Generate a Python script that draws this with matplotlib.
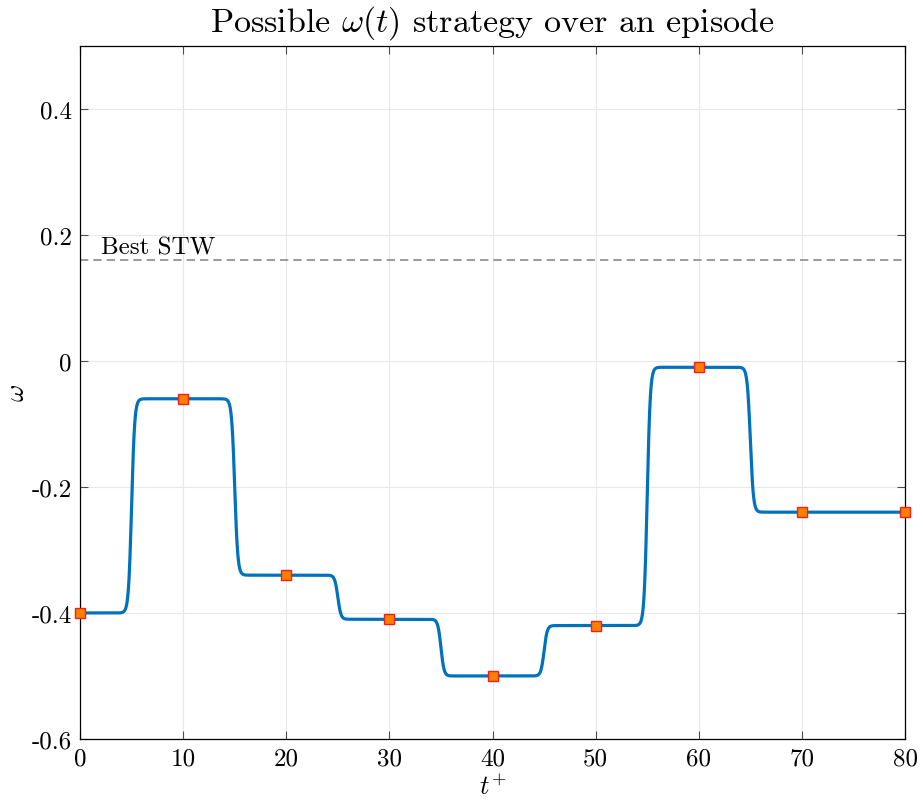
import numpy as np
import matplotlib.pyplot as plt

plt.rcParams['font.family'] = 'serif'
plt.rcParams['font.serif'] = ['cmr10', 'DejaVu Serif']
plt.rcParams['mathtext.fontset'] = 'cm'
plt.rcParams['axes.unicode_minus'] = False

# omega held over each 10 t+ window
t_knots = [0, 10, 20, 30, 40, 50, 60, 70, 80]
w_knots = [-0.40, -0.06, -0.34, -0.41, -0.50, -0.42, -0.01, -0.24, -0.24]
best_stw = 0.16

x_ticks = [0, 10, 20, 30, 40, 50, 60, 70, 80]
y_ticks = [-0.6, -0.4, -0.2, 0, 0.2, 0.4]
y_tick_labels = ['-0.6', '-0.4', '-0.2', '0', '0.2', '0.4']

# smooth switching between the held levels, halfway between knots
t = np.linspace(0, 80, 4000)
w = np.full_like(t, w_knots[0])
for i in range(len(t_knots) - 1):
    tc = 0.5 * (t_knots[i] + t_knots[i + 1])
    w += 0.5 * (w_knots[i + 1] - w_knots[i]) * (1 + np.tanh((t - tc) / 0.3))

fig = plt.figure(figsize=(9.23, 8.03), dpi=100)
ax = fig.add_axes([0.0867, 0.0785, 0.8938, 0.863])

ax.axhline(best_stw, color='#8c8c8c', ls=(0, (5, 3)), lw=1.2, zorder=1)
ax.text(2.0, best_stw + 0.011, 'Best STW', fontsize=18, va='baseline', ha='left')

ax.plot(t, w, color='#0072BD', lw=2.3, zorder=3)
ax.plot(t_knots, w_knots, ls='none', marker='s', ms=6.5, mfc='#FF8000',
        mec='#F0201A', mew=1.0, zorder=4, clip_on=False)

ax.set_xlim(0, 80)
ax.set_ylim(-0.6, 0.5)
ax.set_xticks(x_ticks)
ax.set_yticks(y_ticks)
ax.set_yticklabels(y_tick_labels)
ax.tick_params(direction='in', top=True, right=True, labelsize=18, length=6,
               width=0.8, color='#4d4d4d', pad=6)
ax.grid(True, color='#e8e8e8', lw=0.8)
ax.set_axisbelow(True)
for s in ax.spines.values():
    s.set_linewidth(0.9)

ax.set_xlabel(r'$t^{+}$', fontsize=19, labelpad=3)
ax.set_ylabel(r'$\omega$', fontsize=19, labelpad=2)
ax.set_title(r'Possible $\omega(t)$ strategy over an episode', fontsize=24.5, pad=11)

fig.savefig('out.png', dpi=100)
